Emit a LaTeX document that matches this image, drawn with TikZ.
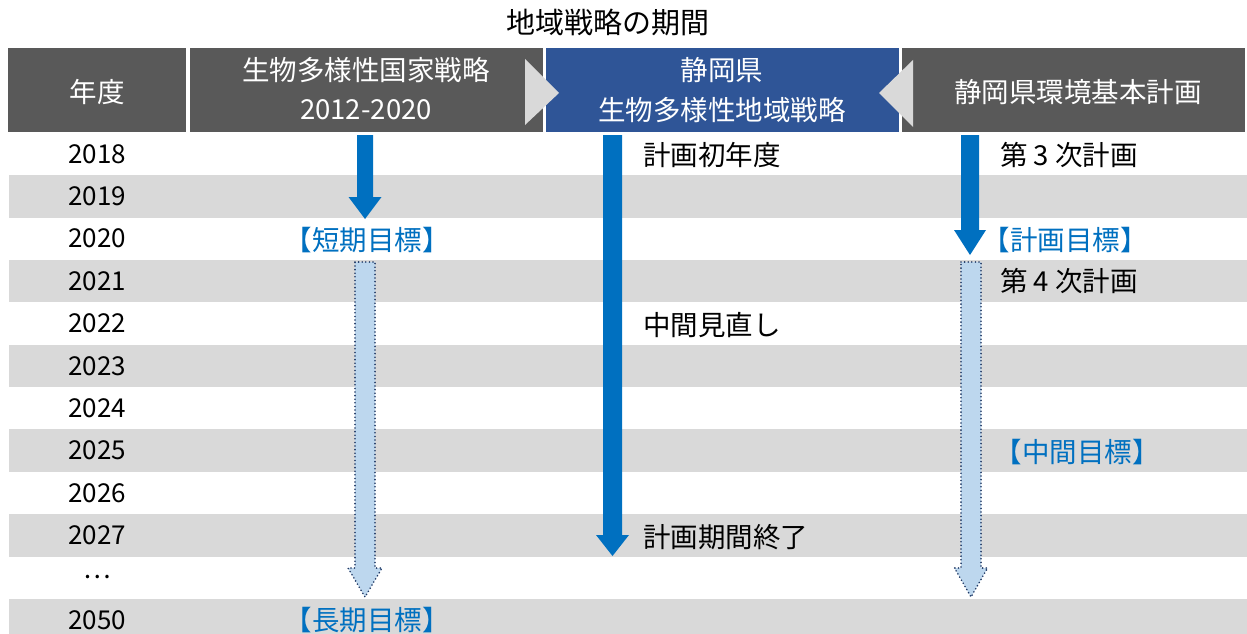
\documentclass[tikz,border=0pt]{standalone}
\usepackage{fontspec}
\setmainfont{Noto Sans CJK JP}
\definecolor{hdrgrey}{HTML}{595959}
\definecolor{hdrblue}{HTML}{2F5597}
\definecolor{bandgrey}{HTML}{D9D9D9}
\definecolor{arrblue}{HTML}{0070C0}
\definecolor{lightblue}{HTML}{BDD7EE}
\definecolor{navy}{HTML}{1F3864}
\newcommand{\blkarrow}[7]{%
  \path[#7] (#1-#5,#2) -- (#1+#5,#2) -- (#1+#5,#3) -- (#1+#6,#3) -- (#1,#4) -- (#1-#6,#3) -- (#1-#5,#3) -- cycle;}
\begin{document}
\begin{tikzpicture}[x=1pt,y=-1pt,
  every node/.style={inner sep=0pt,font=\fontsize{27.5}{30}\selectfont},
  hdr/.style={fill=hdrgrey},
  wt/.style={text=white},
  yr/.style={anchor=center,font=\fontsize{26}{30}\selectfont},
  lbl/.style={anchor=west},
  goal/.style={text=arrblue,anchor=center},
  solidarr/.style={fill=arrblue},
  dotarr/.style={fill=lightblue,draw=navy,line width=1.8pt,line cap=round,dash pattern=on 0pt off 3.6pt}]
\useasboundingbox (0,0) rectangle (1247,634);
\fill[white] (0,0) rectangle (1247,634);
% bands
\foreach \i in {1,3,5,7,9,11}{
  \fill[bandgrey] (9,{133+42.35*\i}) rectangle (1247,{133+42.35*(\i+1)});
}
% header boxes
\fill[hdr] (8,48) rectangle (186,132);
\fill[hdr] (190,48) rectangle (543,132);
\fill[hdrblue] (546,48) rectangle (899,132);
\fill[hdr] (902,48) rectangle (1245,132);
\fill[bandgrey] (525,59) -- (559,93) -- (525,125) -- cycle;
\fill[bandgrey] (913,60) -- (879,93) -- (913,127) -- cycle;
% title
\node[font=\fontsize{29}{30}\selectfont] (title) at (608,22) {地域戦略の期間};
\node[wt] (h1) at (97,92) {年度};
\node[wt] (h2a) at (366,70) {生物多様性国家戦略};
\node[wt] (h2b) at (366,110) {2012-2020};
\node[wt] (h3a) at (722,70) {静岡県};
\node[wt] (h3b) at (722,110) {生物多様性地域戦略};
\node[wt] (h4) at (1078,92) {静岡県環境基本計画};
% years
\foreach \y/\t [count=\k from 0] in {2018,2019,2020,2021,2022,2023,2024,2025,2026,2027,…,2050}{
  \node[yr] (y\k) at (97,{154+42.35*\k}) {\t};
}
% arrows
\blkarrow{365}{135}{197}{219}{8}{16.5}{solidarr}
\blkarrow{612.5}{135}{535}{556}{9.5}{16.5}{solidarr}
\blkarrow{970}{135}{230}{255}{9}{16}{solidarr}
\blkarrow{365}{262}{568}{597}{10}{17}{dotarr}
\blkarrow{971}{262}{568}{597}{10}{16.5}{dotarr}
% labels
\node[lbl] (l1) at (643,155) {計画初年度};
\node[lbl] (l2) at (643,325) {中間見直し};
\node[lbl] (l3) at (643,537) {計画期間終了};
\node[lbl] (l4) at (1000,155) {第 3 次計画};
\node[lbl] (l5) at (1000,281) {第 4 次計画};
\node[goal] (g1) at (367,240) {【短期目標】};
\node[goal] (g2) at (367,620) {【長期目標】};
\node[goal] (g3) at (1065,240) {【計画目標】};
\node[goal] (g4) at (1077,452) {【中間目標】};
\end{tikzpicture}
\end{document}
